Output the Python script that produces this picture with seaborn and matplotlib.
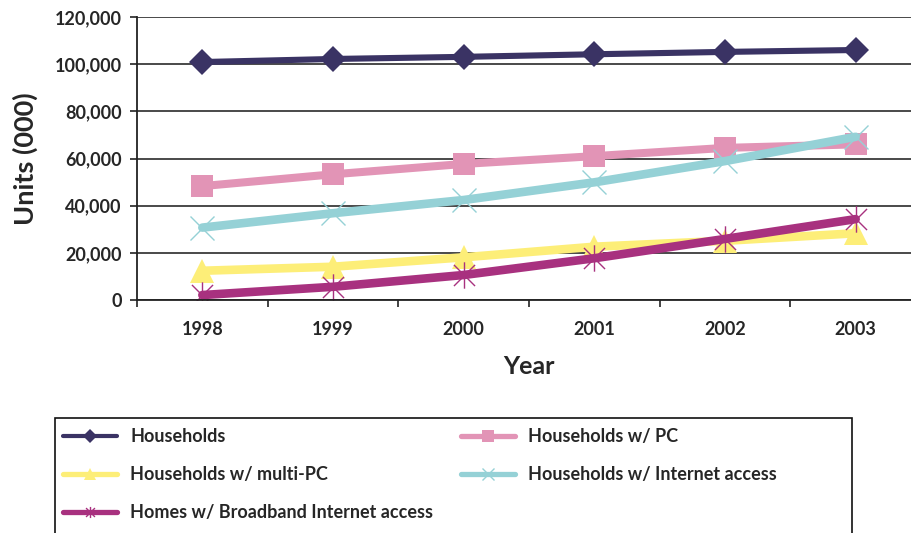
import matplotlib
matplotlib.use("Agg")
import matplotlib.pyplot as plt
from matplotlib.lines import Line2D
from matplotlib.patches import Rectangle
from matplotlib.path import Path
from matplotlib.ticker import FuncFormatter, MultipleLocator
import numpy as np
import pandas as pd
import seaborn as sns

# ---- data (thousands of units) ----
years = ["1998", "1999", "2000", "2001", "2002", "2003"]
households = [100900, 102200, 103100, 104200, 105200, 106000]
households_pc = [48300, 53300, 57700, 61000, 64500, 66000]
households_multi_pc = [12400, 14100, 18100, 22600, 25100, 28300]
households_internet = [30700, 36800, 42400, 49900, 58900, 69200]
homes_broadband = [2100, 5600, 10600, 17700, 25900, 34300]

series_names = [
    "Households",
    "Households w/ PC",
    "Households w/ multi-PC",
    "Households w/ Internet access",
    "Homes w/ Broadband Internet access",
]
series_values = [households, households_pc, households_multi_pc,
                 households_internet, homes_broadband]

df = pd.DataFrame({
    "Year": np.tile(years, len(series_names)),
    "Series": np.repeat(series_names, len(years)),
    "Units": np.concatenate(series_values),
})

# asterisk marker: an X crossed by a vertical bar
asterisk = Path(
    [(-1, -1), (1, 1), (-1, 1), (1, -1), (0, -1.25), (0, 1.25)],
    [Path.MOVETO, Path.LINETO, Path.MOVETO, Path.LINETO, Path.MOVETO, Path.LINETO],
)

styles = {
    "Households": dict(color="#3a3364", marker="D", ms=13, lw=4.4, mew=0),
    "Households w/ PC": dict(color="#e294b6", marker="s", ms=16, lw=5.8, mew=0),
    "Households w/ multi-PC": dict(color="#fdee78", marker="^", ms=17, lw=6.2, mew=0),
    "Households w/ Internet access": dict(color="#95d1d6", marker="x", ms=17, lw=6.2, mew=1.0),
    "Homes w/ Broadband Internet access": dict(color="#a8317f", marker=asterisk, ms=19, lw=6.2, mew=1.0),
}
draw_order = [
    "Households",
    "Households w/ PC",
    "Households w/ Internet access",
    "Households w/ multi-PC",
    "Homes w/ Broadband Internet access",
]

sns.set_style("white")
plt.rcParams["font.family"] = ["Lato", "DejaVu Sans"]

fig = plt.figure(figsize=(9.12, 5.33), dpi=100)
ax = fig.add_axes([137 / 912, 1 - 300 / 533, 784 / 912, 283 / 533])

for name in draw_order:
    st = styles[name]
    sub = df[df["Series"] == name]
    sns.lineplot(
        data=sub, x="Year", y="Units", ax=ax, color=st["color"],
        linewidth=st["lw"], marker=st["marker"], markersize=st["ms"],
        markeredgewidth=st["mew"], markeredgecolor=st["color"],
        markerfacecolor=st["color"], legend=False, sort=False,
    )

ax.set_xlim(-0.5, len(years) - 0.5)
ax.set_ylim(0, 120000)
ax.yaxis.set_major_locator(MultipleLocator(20000))
ax.yaxis.set_major_formatter(FuncFormatter(lambda v, p: f"{int(v):,}"))
ax.grid(axis="y", color="#3a3a3a", linewidth=1.3)
ax.grid(axis="x", visible=False)
ax.set_axisbelow(True)

for s in ["top", "right"]:
    ax.spines[s].set_visible(False)
for s in ["left", "bottom"]:
    ax.spines[s].set_color("#222222")
    ax.spines[s].set_linewidth(1.3)

ax.set_xticks(range(len(years)))
ax.set_xticklabels(years)
ax.set_xticks(np.arange(-0.5, len(years) + 0.5, 1.0), minor=True)
ax.tick_params(axis="x", which="major", length=0, pad=15, labelsize=13)
ax.tick_params(axis="x", which="minor", length=5, width=1.2, color="#222222",
               direction="out", bottom=True)
ax.tick_params(axis="y", length=5, width=1.2, color="#222222", direction="out",
               left=True, labelsize=13, pad=6)
for lbl in ax.get_xticklabels() + ax.get_yticklabels():
    lbl.set_fontweight("bold")

ax.set_xlabel("Year", fontsize=18, fontweight="bold", labelpad=12)
ax.set_ylabel("Units (000)", fontsize=19.5, fontweight="bold", labelpad=12)

# ---- legend ----
def handle(name):
    st = styles[name]
    lw = 3.0 if name == "Households" else 3.8
    return Line2D([], [], color=st["color"], linewidth=lw, marker=st["marker"],
                  markersize=8 if name != "Households" else 7,
                  markeredgewidth=st["mew"], markeredgecolor=st["color"],
                  markerfacecolor=st["color"])

fig.patches.append(Rectangle((55 / 912, -0.05), (852 - 55) / 912, 1 - 418 / 533 + 0.05,
                             transform=fig.transFigure, fill=False,
                             edgecolor="#111111", linewidth=1.2))

col1 = ["Households", "Households w/ multi-PC", "Homes w/ Broadband Internet access"]
col2 = ["Households w/ PC", "Households w/ Internet access"]
for names, x0 in [(col1, 63), (col2, 461)]:
    fig.legend([handle(n) for n in names], names, loc="upper left",
               bbox_to_anchor=(x0 / 912, 1 - 428 / 533), frameon=False,
               borderpad=0, borderaxespad=0, handlelength=3.0, handletextpad=0.72,
               labelspacing=1.17, prop=dict(family=["Lato", "DejaVu Sans"],
                                            weight="bold", size=13))

fig.savefig("out.png", dpi=100)
